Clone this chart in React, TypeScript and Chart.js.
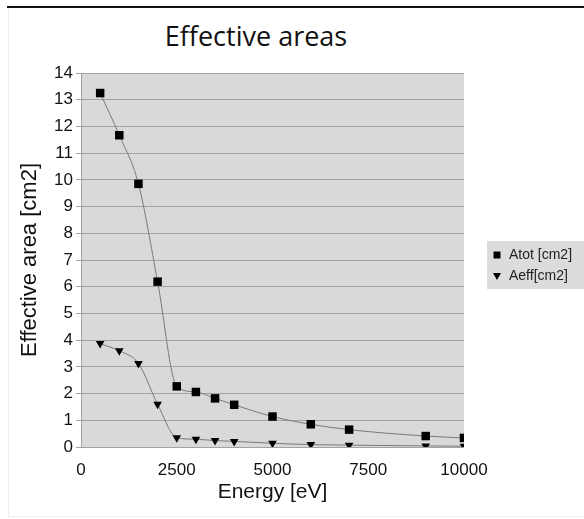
import React, { useEffect, useRef } from "react";
import { Chart, registerables } from "chart.js";

Chart.register(...registerables);

const energies = [500, 1000, 1500, 2000, 2500, 3000, 3500, 4000, 5000, 6000, 7000, 9000, 10000];
const atot = [13.25, 11.67, 9.85, 6.19, 2.27, 2.06, 1.82, 1.58, 1.14, 0.85, 0.65, 0.41, 0.34];
const aeff = [3.87, 3.6, 3.13, 1.6, 0.35, 0.29, 0.24, 0.21, 0.14, 0.09, 0.07, 0.04, 0.03];
const seriesLabels = ["Atot [cm2]", "Aeff[cm2]"];
const chartTitle = "Effective areas";
const xTitle = "Energy [eV]";
const yTitle = "Effective area [cm2]";

const FONT = "'Liberation Sans', Arial, sans-serif";

const plotBg = {
  id: "plotBg",
  beforeDraw(chart: any) {
    const { ctx, chartArea } = chart;
    ctx.save();
    ctx.fillStyle = "#d9d9d9";
    ctx.fillRect(chartArea.left, chartArea.top, chartArea.right - chartArea.left, chartArea.bottom - chartArea.top);
    ctx.restore();
  },
};

const sideLegend = {
  id: "sideLegend",
  afterDraw(chart: any) {
    const { ctx, chartArea } = chart;
    const x0 = chartArea.right + 23;
    const y0 = chartArea.top + 168;
    const w = chart.width - x0;
    const h = 48;
    ctx.save();
    ctx.fillStyle = "#dcdcdc";
    ctx.fillRect(x0, y0, w, h);
    ctx.font = "14px " + FONT;
    ctx.textBaseline = "middle";
    chart.data.datasets.forEach((ds: any, i: number) => {
      const cy = y0 + 14 + i * 21;
      const mx = x0 + 10;
      ctx.fillStyle = "#000";
      if (ds.pointStyle === "rect") {
        ctx.fillRect(mx - 3.5, cy - 3.5, 7, 7);
      } else {
        ctx.beginPath();
        ctx.moveTo(mx - 4, cy - 3);
        ctx.lineTo(mx + 4, cy - 3);
        ctx.lineTo(mx, cy + 4);
        ctx.closePath();
        ctx.fill();
      }
      ctx.fillStyle = "#222";
      ctx.fillText(ds.label, x0 + 22, cy);
    });
    ctx.restore();
  },
};

export default function App() {
  const ref = useRef<HTMLCanvasElement>(null);
  useEffect(() => {
    if (!ref.current) return;
    const chart = new Chart(ref.current, {
      type: "line",
      data: {
        datasets: [
          {
            label: seriesLabels[0],
            data: energies.map((e, i) => ({ x: e, y: atot[i] })),
            borderColor: "#7a7a7a",
            borderWidth: 1,
            pointStyle: "rect",
            pointRadius: 6,
            pointBackgroundColor: "#000",
            pointBorderColor: "#000",
            pointBorderWidth: 0,
            cubicInterpolationMode: "monotone",
          },
          {
            label: seriesLabels[1],
            data: energies.map((e, i) => ({ x: e, y: aeff[i] })),
            borderColor: "#7a7a7a",
            borderWidth: 1,
            pointStyle: "triangle",
            pointRotation: 180,
            pointRadius: 5,
            pointBackgroundColor: "#000",
            pointBorderColor: "#000",
            pointBorderWidth: 0,
            cubicInterpolationMode: "monotone",
          },
        ],
      },
      options: {
        animation: false,
        responsive: false,
        maintainAspectRatio: false,
        layout: { padding: { left: 0, right: 120, top: 73, bottom: 0 } },
        plugins: {
          legend: { display: false },
          title: { display: false },
          tooltip: { enabled: false },
        },
        scales: {
          x: {
            type: "linear",
            min: 0,
            max: 10000,
            afterFit(scale: any) {
              scale.height = 72;
            },
            ticks: {
              stepSize: 2500,
              color: "#111",
              padding: 5,
              maxRotation: 0,
              callback: (v: any) => String(v),
              font: { family: FONT, size: 17 },
            },
            grid: { display: false },
            border: { display: false },
            title: {
              display: true,
              text: xTitle,
              color: "#111",
              font: { family: FONT, size: 21 },
              padding: { top: 0, bottom: 14 },
            },
          },
          y: {
            type: "linear",
            min: 0,
            max: 14,
            afterFit(scale: any) {
              scale.width = 81;
            },
            ticks: {
              stepSize: 1,
              color: "#111",
              padding: 3,
              font: { family: FONT, size: 17 },
            },
            grid: { color: "#a3a3a3", tickLength: 5, tickColor: "#a3a3a3" },
            border: { color: "#a3a3a3" },
            title: {
              display: true,
              text: yTitle,
              color: "#111",
              font: { family: FONT, size: 22 },
              padding: { top: 17, bottom: 0 },
            },
          },
        },
      },
      plugins: [plotBg, sideLegend],
    });
    return () => chart.destroy();
  }, []);

  return (
    <div style={{ position: "fixed", left: 0, top: 0, width: 584, height: 519, background: "#fff", overflow: "hidden" }}>
      <div style={{ position: "absolute", left: 7, top: 6, right: 0, height: 0, borderTop: "2px solid #111" }} />
      <div style={{ position: "absolute", left: 8, top: 8, width: 0, bottom: 2, borderLeft: "1px solid #eee" }} />
      <div style={{ position: "absolute", left: 8, right: 0, bottom: 2, height: 0, borderTop: "1px solid #eee" }} />
      <div
        style={{
          position: "absolute",
          left: 0,
          top: 16,
          width: 512,
          textAlign: "center",
          fontFamily: "'Open Sans', sans-serif",
          fontSize: 27,
          color: "#111",
          lineHeight: "40px",
        }}
      >
        {chartTitle}
      </div>
      <canvas ref={ref} width={584} height={519} style={{ position: "absolute", left: 0, top: 0, width: 584, height: 519 }} />
    </div>
  );
}
